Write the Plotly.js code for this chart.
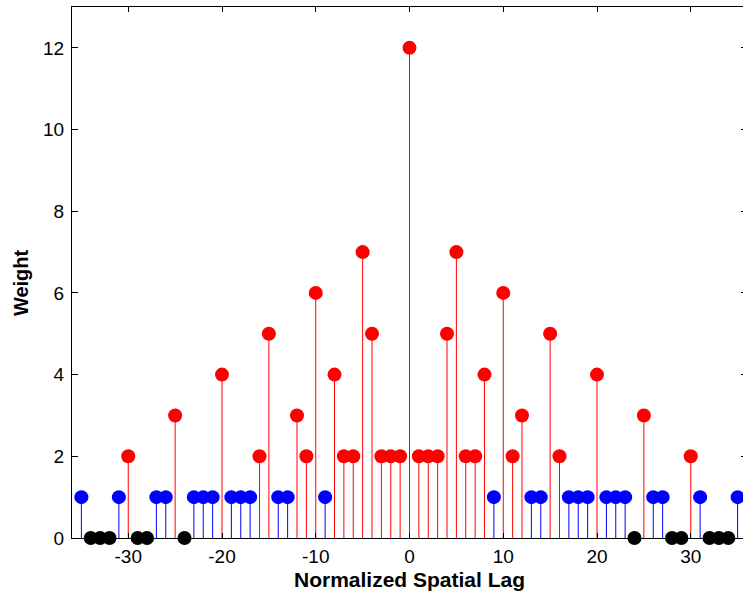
<!DOCTYPE html>
<html>
<head>
<meta charset="utf-8">
<script src="https://cdn.plot.ly/plotly-3.0.1.min.js"></script>
<style>html,body{margin:0;padding:0;overflow:hidden;background:#fff;width:743px;height:600px}</style>
</head>
<body>
<div id="chart" style="width:747px;height:600px"></div>
<script>
// Normalized spatial lags and their weights
const redLags = [-30,-25,-20,-16,-15,-12,-11,-10,-8,-7,-6,-5,-4,-3,-2,-1,0,1,2,3,4,5,6,7,8,10,11,12,15,16,20,25,30];
const redWeights = [2,3,4,2,5,3,2,6,4,2,2,7,5,2,2,2,12,2,2,2,5,7,2,2,4,6,2,3,5,2,4,3,2];
const blueLags = [-35,-31,-27,-26,-23,-22,-21,-19,-18,-17,-14,-13,-9,9,13,14,17,18,19,21,22,23,26,27,31,35];
const blueWeights = [1,1,1,1,1,1,1,1,1,1,1,1,1,1,1,1,1,1,1,1,1,1,1,1,1,1];
const blackLags = [-34,-33,-32,-29,-28,-24,24,28,29,32,33,34];
const blackWeights = [0,0,0,0,0,0,0,0,0,0,0,0];
const xTicks = [-30,-20,-10,0,10,20,30];
const yTicks = [0,2,4,6,8,10,12];

function stems(xs, ys, color) {
  const sx = [], sy = [];
  xs.forEach((x, i) => { sx.push(x, x, null); sy.push(0, ys[i], null); });
  return [
    {x: sx, y: sy, mode: 'lines', line: {color: color, width: 1}, hoverinfo: 'skip', showlegend: false, cliponaxis: false},
    {x: xs, y: ys, mode: 'markers', marker: {color: color, size: 14}, showlegend: false, cliponaxis: false}
  ];
}

const data = [].concat(
  stems(redLags, redWeights, '#ff0000'),
  stems(blueLags, blueWeights, '#0000ff'),
  stems(blackLags, blackWeights, '#000000')
);

const family = 'Liberation Sans, Arial, sans-serif';
const tickFont = {family: family, size: 19, color: '#000'};
const layout = {
  width: 747, height: 600,
  margin: {l: 72, r: 0, t: 7, b: 62},
  paper_bgcolor: '#fff', plot_bgcolor: '#fff',
  font: {family: family, size: 19, color: '#000'},
  xaxis: {
    range: [-36, 36], tickvals: xTicks, ticktext: xTicks.map(String), tickfont: tickFont,
    ticks: 'inside', ticklen: 5, tickcolor: '#000', tickwidth: 1,
    showline: true, linecolor: '#000', linewidth: 1, mirror: 'ticks',
    showgrid: false, zeroline: false, ticklabelstandoff: 1,
    title: {text: '<b>Normalized Spatial Lag</b>', font: {family: family, size: 21, color: '#000'}, standoff: 6}
  },
  yaxis: {
    range: [0, 13], tickvals: yTicks, ticktext: yTicks.map(String), tickfont: tickFont,
    ticks: 'inside', ticklen: 6, tickcolor: '#000', tickwidth: 1,
    showline: true, linecolor: '#000', linewidth: 1, mirror: 'ticks',
    showgrid: false, zeroline: false, ticklabelstandoff: 3
  },
  annotations: [{
    text: '<b>Weight</b>', textangle: -90, showarrow: false,
    xref: 'paper', yref: 'paper', x: 0, y: 0.48, xshift: -51,
    xanchor: 'center', yanchor: 'middle',
    font: {family: family, size: 20, color: '#000'}
  }]
};

Plotly.newPlot('chart', data, layout, {displayModeBar: false, staticPlot: true});
</script>
</body>
</html>
